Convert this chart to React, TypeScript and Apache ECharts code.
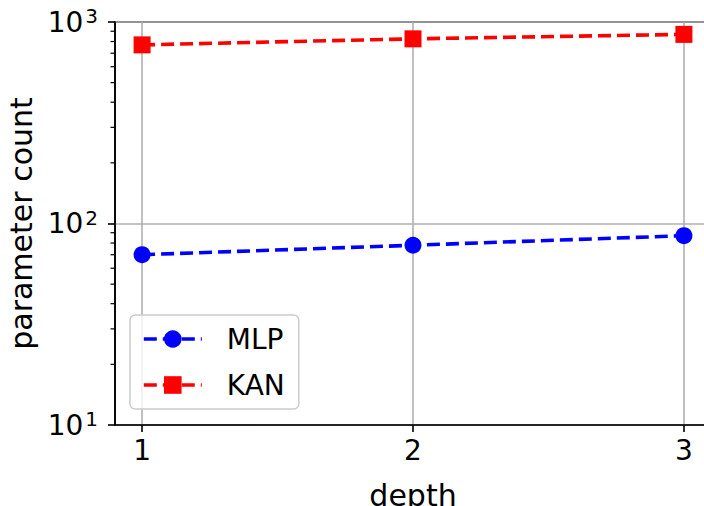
import React, { useEffect, useRef } from "react";
import * as echarts from "echarts";

const depth = [1, 2, 3];
const mlpParams = [70, 78, 87];
const kanParams = [770, 825, 868];
const xTicks = [1, 2, 3];
const yMinorTicks = [20, 30, 40, 50, 60, 70, 80, 90, 200, 300, 400, 500, 600, 700, 800, 900];

const FONT = "DejaVu Sans";
const DASH = [13, 6];

export default function App() {
  const ref = useRef<HTMLDivElement>(null);
  useEffect(() => {
    if (!ref.current) return;
    const chart = echarts.init(ref.current, undefined, { renderer: "svg" });
    const option: any = {
      animation: false,
      backgroundColor: "#ffffff",
      textStyle: { fontFamily: FONT, color: "#000" },
      grid: {
        left: 115,
        top: 22,
        width: 596,
        height: 403,
        outerBoundsMode: "none",
        containLabel: false,
        show: true,
        borderColor: "#000",
        borderWidth: 1.6,
        backgroundColor: "transparent",
      },
      legend: {
        data: ["MLP", "KAN"],
        orient: "vertical",
        left: 130,
        top: 315,
        itemWidth: 58,
        itemHeight: 22,
        itemGap: 14,
        padding: [8, 14, 8, 12],
        backgroundColor: "rgba(255,255,255,0.8)",
        borderColor: "#cccccc",
        borderWidth: 1.5,
        borderRadius: 5,
        lineStyle: { width: 3.6, type: DASH },
        textStyle: { fontSize: 28, color: "#000", fontFamily: FONT, padding: [0, 0, 0, 20], lineHeight: 32 },
      },
      xAxis: {
        type: "value",
        min: 0.9,
        max: 3.1,
        name: "depth",
        nameLocation: "middle",
        nameGap: 55,
        nameTextStyle: { fontSize: 30, color: "#000", fontFamily: FONT },
        axisLine: { show: true, lineStyle: { color: "#000", width: 1.6 } },
        axisTick: { show: true, length: 7, customValues: xTicks, lineStyle: { color: "#000", width: 1.6 } },
        axisLabel: { customValues: xTicks, fontSize: 28, margin: 11, color: "#000", fontFamily: FONT },
        splitLine: { show: true, lineStyle: { color: "#b0b0b0", width: 1.6 } },
      },
      yAxis: {
        type: "log",
        logBase: 10,
        min: 10,
        max: 1000,
        name: "parameter count",
        nameLocation: "middle",
        nameGap: 72,
        nameTextStyle: { fontSize: 30, color: "#000", fontFamily: FONT },
        axisLine: { show: true, lineStyle: { color: "#000", width: 1.6 } },
        axisTick: { show: true, length: 7, lineStyle: { color: "#000", width: 1.6 } },
        axisLabel: {
          margin: 17,
          color: "#000",
          formatter: (v: number) => `{b|10}{s|${Math.round(Math.log10(v))}}`,
          rich: {
            b: { fontSize: 28, fontFamily: FONT, color: "#000", lineHeight: 32 },
            s: { fontSize: 20, fontFamily: FONT, color: "#000", verticalAlign: "top", lineHeight: 32, padding: [0, 0, 0, 2] },
          },
        },
        splitLine: { show: true, lineStyle: { color: "#b0b0b0", width: 1.6 } },
      },
      series: [
        {
          name: "minorTicks",
          type: "custom",
          silent: true,
          clip: false,
          z: 5,
          data: yMinorTicks.map((v) => [0.9, v]),
          renderItem: (params: any, api: any) => {
            const p = api.coord([api.value(0), api.value(1)]);
            return {
              type: "line",
              shape: { x1: p[0] - 4.5, y1: p[1], x2: p[0], y2: p[1] },
              style: { stroke: "#000", lineWidth: 1.2 },
            };
          },
        },
        {
          name: "MLP",
          type: "line",
          data: depth.map((d, i) => [d, mlpParams[i]]),
          symbol: "circle",
          symbolSize: 17,
          z: 3,
          lineStyle: { color: "#0000ff", width: 3.6, type: DASH },
          itemStyle: { color: "#0000ff" },
        },
        {
          name: "KAN",
          type: "line",
          data: depth.map((d, i) => [d, kanParams[i]]),
          symbol: "rect",
          symbolSize: 17,
          z: 4,
          lineStyle: { color: "#ff0000", width: 3.6, type: DASH },
          itemStyle: { color: "#ff0000" },
        },
      ],
    };
    chart.setOption(option);
    return () => chart.dispose();
  }, []);
  return <div ref={ref} style={{ position: "fixed", left: 0, top: 0, width: 704, height: 506 }} />;
}
